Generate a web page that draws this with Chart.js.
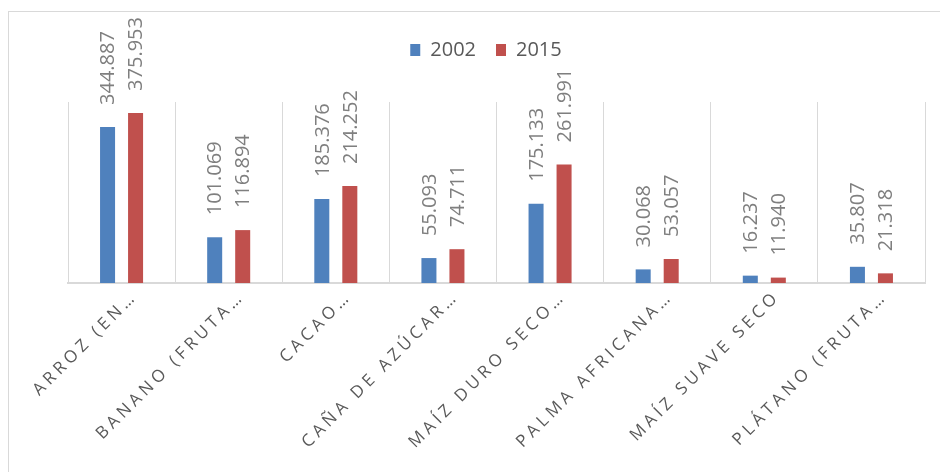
<!DOCTYPE html>
<html>
<head>
<meta charset="utf-8">
<script src="https://cdn.jsdelivr.net/npm/chart.js@4.4.1/dist/chart.umd.min.js"></script>
<style>
    html, body { margin: 0; padding: 0; background: #fff; }
    #wrap { width: 940px; height: 472px; position: relative; }
</style>
</head>
<body>
<div id="wrap"><canvas id="chart"></canvas></div>
<script>
'use strict';

// data
const categories = ['ARROZ (EN…', 'BANANO (FRUTA…', 'CACAO…', 'CAÑA DE AZÚCAR…',
    'MAÍZ DURO SECO…', 'PALMA AFRICANA…', 'MAÍZ SUAVE SECO', 'PLÁTANO (FRUTA…'];
const seriesNames = ['2002', '2015'];
const values2002 = [344887, 101069, 185376, 55093, 175133, 30068, 16237, 35807];
const values2015 = [375953, 116894, 214252, 74711, 261991, 53057, 11940, 21318];
const yMin = 0;
const yMax = 400000;

const FONT = '"Open Sans", "Liberation Sans", sans-serif';

function fmt(n) {
    // spanish thousands separator
    return String(n).replace(/\B(?=(\d{3})+(?!\d))/g, '.');
}

// white background + light frame around the chart
const framePlugin = {
    id: 'frame',
    beforeDraw(chart) {
        let ctx = chart.ctx;
        ctx.save();
        ctx.fillStyle = '#fff';
        ctx.fillRect(0, 0, chart.width, chart.height);
        ctx.strokeStyle = '#d9d9d9';
        ctx.lineWidth = 1;
        ctx.strokeRect(8.5, 11.5, chart.width + 20, chart.height + 20);
        ctx.restore();
    }
};

// leave room between the legend and the plot
const legendGap = {
    id: 'legendGap',
    beforeUpdate(chart) {
        let legend = chart.legend;
        if (legend && !legend._gapPatched) {
            let fit = legend.fit;
            legend.fit = function() {
                fit.call(this);
                if (this.isHorizontal()) this.height = 82;
            };
            legend._gapPatched = true;
        }
    }
};

// rotated value labels above each bar
const valueLabels = {
    id: 'valueLabels',
    afterDatasetsDraw(chart) {
        let ctx = chart.ctx;
        chart.data.datasets.forEach(function(ds, di) {
            let meta = chart.getDatasetMeta(di);
            meta.data.forEach(function(bar, i) {
                ctx.save();
                ctx.translate(bar.x + 1, bar.y - 22);
                ctx.rotate(-Math.PI / 2);
                ctx.font = '20px ' + FONT;
                ctx.fillStyle = '#7f7f7f';
                ctx.textAlign = 'left';
                ctx.textBaseline = 'middle';
                ctx.fillText(fmt(ds.data[i]), 0, 0);
                ctx.restore();
            });
        });
    }
};

// letter-spaced, 45 degree category labels
const categoryLabels = {
    id: 'categoryLabels',
    afterDraw(chart) {
        let ctx = chart.ctx;
        let x = chart.scales.x;
        let bottom = chart.chartArea.bottom;
        categories.forEach(function(label, i) {
            ctx.save();
            ctx.translate(x.getPixelForValue(i) + 13, bottom + 11);
            ctx.rotate(-Math.PI / 4);
            ctx.font = '17px ' + FONT;
            ctx.letterSpacing = '4px';
            ctx.fillStyle = '#595959';
            ctx.textAlign = 'right';
            ctx.textBaseline = 'middle';
            ctx.fillText(label, 0, 0);
            ctx.restore();
        });
    }
};

let ctx = document.getElementById('chart').getContext('2d');
new Chart(ctx, {
    type: 'bar',
    data: {
        labels: categories,
        datasets: [
            {
                label: seriesNames[0],
                data: values2002,
                backgroundColor: '#4f81bd',
                categoryPercentage: 0.523,
                barPercentage: 0.536,
            },
            {
                label: seriesNames[1],
                data: values2015,
                backgroundColor: '#c0504d',
                categoryPercentage: 0.523,
                barPercentage: 0.536,
            },
        ]
    },
    options: {
        responsive: true,
        maintainAspectRatio: false,
        animation: false,
        layout: {
            padding: { left: 47, right: 15, top: 20, bottom: 0 }
        },
        plugins: {
            legend: {
                position: 'top',
                labels: {
                    boxWidth: 10,
                    boxHeight: 12,
                    padding: 20,
                    color: '#595959',
                    font: { size: 20, family: FONT },
                }
            },
            tooltip: { enabled: false },
        },
        scales: {
            x: {
                grid: { color: '#d9d9d9', lineWidth: 1, drawTicks: false, offset: true },
                border: { color: '#d9d9d9', width: 2 },
                ticks: { display: false },
                afterFit: function(s) { s.height = 189; },
            },
            y: {
                min: yMin,
                max: yMax,
                grid: { display: false },
                border: { display: false },
                ticks: { display: false },
                afterFit: function(s) { s.width = 21; },
            }
        }
    },
    plugins: [framePlugin, legendGap, valueLabels, categoryLabels]
});
</script>
</body>
</html>
